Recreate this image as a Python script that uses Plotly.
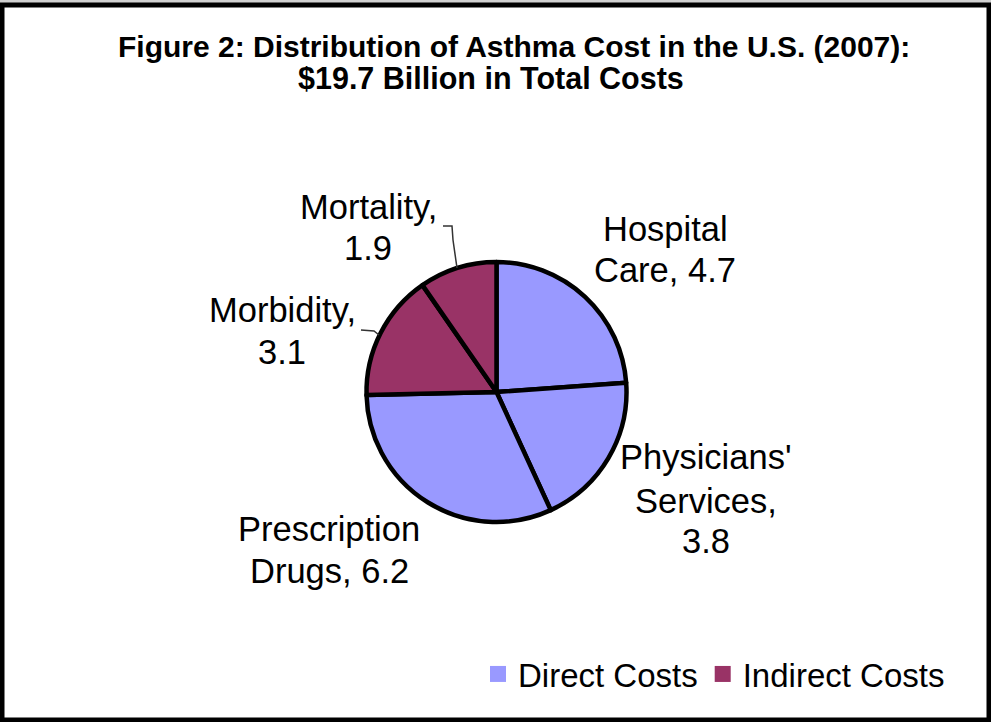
import plotly.graph_objects as go

# --- data ---
slice_names = ["Hospital Care", "Physicians' Services", "Prescription Drugs", "Morbidity", "Mortality"]
slice_values = [4.7, 3.8, 6.2, 3.1, 1.9]
slice_group = ["Direct Costs", "Direct Costs", "Direct Costs", "Indirect Costs", "Indirect Costs"]
# label lines as shown next to each slice
label_lines = [["Hospital", "Care, 4.7"],
               ["Physicians'", "Services,", "3.8"],
               ["Prescription", "Drugs, 6.2"],
               ["Morbidity,", "3.1"],
               ["Mortality,", "1.9"]]

GROUP_COLORS = {"Direct Costs": "#9999FF", "Indirect Costs": "#993366"}

W, H = 991, 722
FONT = "Liberation Sans, Arial, sans-serif"


def px(x):
    return x / W


def py(y):
    return 1 - y / H


fig = go.Figure()

fig.add_trace(go.Pie(
    labels=slice_names,
    values=slice_values,
    sort=False,
    direction="clockwise",
    rotation=0,
    textinfo="none",
    hoverinfo="label+value",
    marker=dict(colors=[GROUP_COLORS[g] for g in slice_group],
                line=dict(color="black", width=4.5)),
    domain=dict(x=[px(366), px(627)], y=[py(522), py(262)]),
    showlegend=False,
))

# legend entries (direct / indirect)
for grp, col in GROUP_COLORS.items():
    fig.add_trace(go.Scatter(
        x=[None], y=[None], mode="markers", name=grp,
        marker=dict(symbol="square", size=16, color=col, line=dict(width=0)),
    ))

# slice labels: one annotation per line (x centre, y of each line)
label_pos = [(665, [229, 270]),
             (706, [457, 501, 541]),
             (329, [529, 571]),
             (282, [310, 352]),
             (368, [207, 248])]
annotations = []
for lines, (x, ys) in zip(label_lines, label_pos):
    for txt, y in zip(lines, ys):
        annotations.append(dict(
            text=txt, x=px(x), y=py(y), xref="paper", yref="paper",
            xanchor="center", yanchor="middle", showarrow=False,
            font=dict(family=FONT, size=34.5, color="black"),
        ))

# title, two lines
annotations.append(dict(text="<b>Figure 2: Distribution of Asthma Cost in the U.S. (2007):</b>",
                        x=px(514), y=py(46), xref="paper", yref="paper", showarrow=False,
                        xanchor="center", yanchor="middle",
                        font=dict(family=FONT, size=30, color="black")))
annotations.append(dict(text="<b>$19.7 Billion in Total Costs</b>",
                        x=px(491), y=py(78), xref="paper", yref="paper", showarrow=False,
                        xanchor="center", yanchor="middle",
                        font=dict(family=FONT, size=30.5, color="black")))

shapes = [
    # leader lines
    dict(type="path", xref="paper", yref="paper",
         path=f"M{px(443)},{py(226)} L{px(452)},{py(226)} L{px(453)},{py(240)} L{px(457)},{py(268)}",
         line=dict(color="#333333", width=1.5)),
    dict(type="path", xref="paper", yref="paper",
         path=f"M{px(361)},{py(330)} L{px(374)},{py(331)} L{px(379)},{py(335)}",
         line=dict(color="#333333", width=1.5)),
    # outer frame
    dict(type="rect", xref="paper", yref="paper", x0=px(0), x1=px(991), y0=py(0), y1=py(3),
         fillcolor="#d0d0d0", line=dict(width=0)),
    dict(type="rect", xref="paper", yref="paper", x0=px(2), x1=px(989), y0=py(720), y1=py(5),
         line=dict(color="black", width=5)),
]

fig.update_layout(
    width=W, height=H,
    margin=dict(l=0, r=0, t=0, b=0),
    paper_bgcolor="white", plot_bgcolor="white",
    xaxis=dict(visible=False), yaxis=dict(visible=False),
    annotations=annotations,
    shapes=shapes,
    showlegend=True,
    legend=dict(orientation="h", x=px(478), y=py(646), xanchor="left", yanchor="top",
                font=dict(family=FONT, size=33, color="black"),
                bgcolor="rgba(0,0,0,0)", itemclick=False, itemdoubleclick=False),
)

# drop the default page margin so the figure sits at the window's top-left corner
fig.write_html("out.html", config={"displayModeBar": False},
               post_script="document.body.style.margin='0';")
